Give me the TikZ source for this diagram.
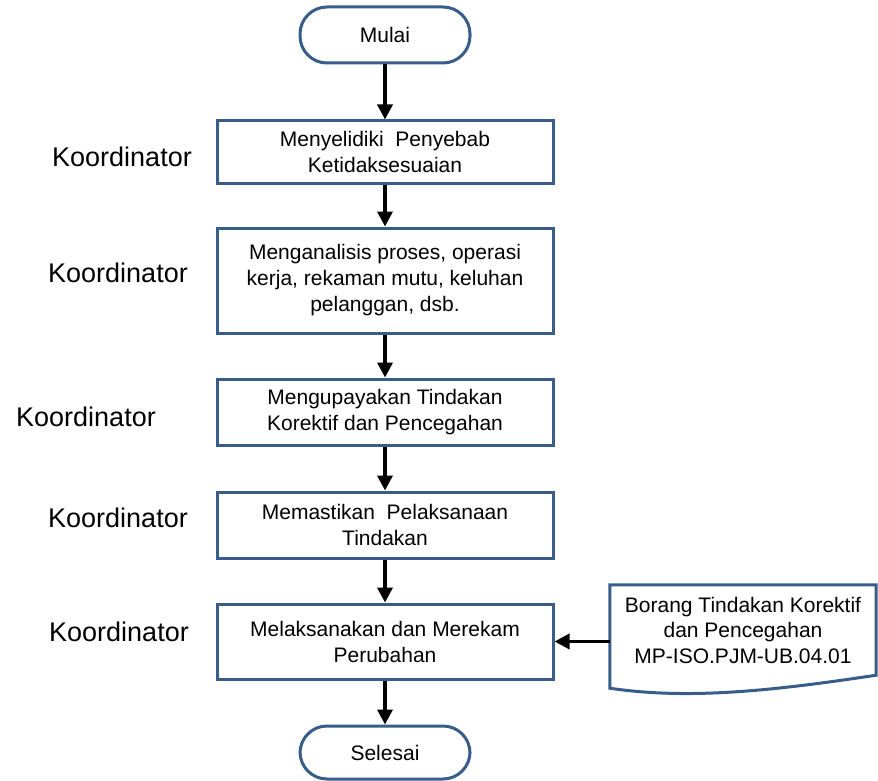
\documentclass[tikz,border=0pt]{standalone}
\usepackage{fontspec}
\setmainfont{Liberation Sans}
\usepackage{tikz}
\usetikzlibrary{arrows.meta}
\usetikzlibrary{positioning}
\definecolor{boxblue}{RGB}{56,93,138}
\tikzset{procbox/.style = {draw=boxblue, line width=3pt, fill=white,
                           minimum width=336pt, align=center,
                           font=\fontsize{21}{26}\selectfont},
         termbox/.style = {procbox, minimum width=170pt, rounded corners=27pt},
         rolelabel/.style = {font=\fontsize{27}{32}\selectfont},
         flow/.style = {draw=black, line width=3.5pt,
                        -{Triangle[width=15pt,length=15pt]}}}

\begin{document}
\begin{tikzpicture}[x=1pt, y=-1pt]
    \useasboundingbox (0,0) rectangle (878,781);

    \node[termbox, minimum height=56pt] (mulai) at (385,35) {Mulai};
    \node[procbox, minimum height=62pt] (selidik) at (385,152) {Menyelidiki\ \ Penyebab\\Ketidaksesuaian};
    \node[procbox, minimum height=105pt] (analisis) at (385,280.5) {Menganalisis proses, operasi\\kerja, rekaman mutu, keluhan\\pelanggan, dsb.};
    \node[procbox, minimum height=66pt] (upaya) at (385,412) {Mengupayakan Tindakan\\Korektif dan Pencegahan};
    \node[procbox, minimum height=66pt] (pastikan) at (385,525) {Memastikan\ \ Pelaksanaan\\Tindakan};
    \node[procbox, minimum height=75pt] (rekam) at (385,641.5) {Melaksanakan dan Merekam\\Perubahan};
    \node[termbox, minimum height=53pt] (selesai) at (385,752.5) {Selesai};

    \node[rolelabel] (k1) at (122,157) {Koordinator};
    \node[rolelabel] (k2) at (118,273) {Koordinator};
    \node[rolelabel] (k3) at (86,417) {Koordinator};
    \node[rolelabel] (k4) at (118,518) {Koordinator};
    \node[rolelabel] (k5) at (119,632) {Koordinator};

    \node[minimum width=266pt, minimum height=90pt, align=center,
          font=\fontsize{21}{25.5}\selectfont] (borang) at (743,630)
          {Borang Tindakan Korektif\\dan Pencegahan\\MP-ISO.PJM-UB.04.01};
    \draw[draw=boxblue, line width=3pt] ([yshift=-13pt]borang.south west) -- (borang.north west)
          -- (borang.north east) -- (borang.south east)
          .. controls +(-100,15) and +(80,12) .. ([yshift=-13pt]borang.south west) -- cycle;

    \foreach \from/\to in {mulai/selidik, selidik/analisis, analisis/upaya,
                           upaya/pastikan, pastikan/rekam, rekam/selesai}
        \draw[flow] (\from) -- (\to);
    \draw[flow] (borang.west |- rekam.east) -- (rekam.east);
\end{tikzpicture}
\end{document}
